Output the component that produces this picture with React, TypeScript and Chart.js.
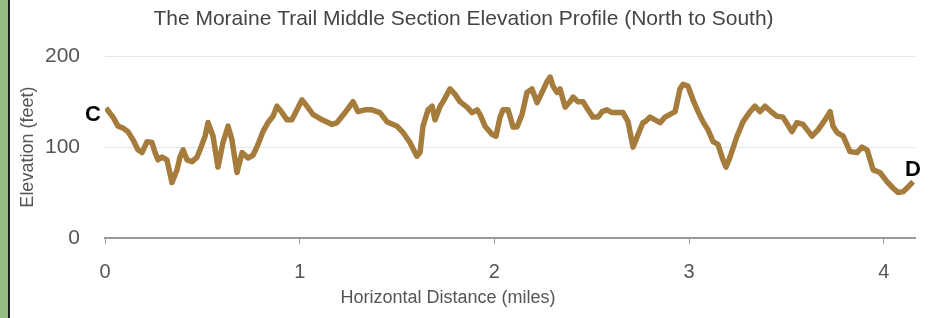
import React, { useEffect, useRef } from "react";
import { Chart, registerables } from "chart.js";

Chart.register(...registerables);

const CHART_TITLE = "The Moraine Trail Middle Section Elevation Profile (North to South)";
const X_TITLE = "Horizontal Distance (miles)";
const Y_TITLE = "Elevation (feet)";
const START_LABEL = "C";
const END_LABEL = "D";

const xTickValues = [0, 1, 2, 3, 4];
const yTickValues = [0, 100, 200];

const distanceMiles = [
  0.005, 0.041, 0.067, 0.092, 0.118, 0.144, 0.169, 0.19, 0.216, 0.241, 0.257, 0.272, 0.293, 0.318,
  0.344, 0.37, 0.385, 0.401, 0.421, 0.447, 0.473, 0.488, 0.514, 0.529, 0.555, 0.58, 0.606, 0.632,
  0.652, 0.678, 0.704, 0.734, 0.76, 0.786, 0.811, 0.837, 0.863, 0.883, 0.909, 0.935, 0.96, 0.986,
  1.012, 1.037, 1.068, 1.115, 1.166, 1.192, 1.233, 1.274, 1.299, 1.335, 1.371, 1.412, 1.448, 1.5,
  1.531, 1.566, 1.602, 1.618, 1.633, 1.659, 1.68, 1.695, 1.721, 1.736, 1.772, 1.798, 1.823, 1.859,
  1.885, 1.911, 1.926, 1.952, 1.988, 2.008, 2.029, 2.044, 2.07, 2.096, 2.116, 2.142, 2.167, 2.193,
  2.219, 2.244, 2.27, 2.286, 2.301, 2.322, 2.337, 2.363, 2.388, 2.404, 2.429, 2.455, 2.481, 2.506,
  2.532, 2.553, 2.578, 2.604, 2.635, 2.66, 2.686, 2.712, 2.738, 2.763, 2.774, 2.799, 2.825, 2.851,
  2.876, 2.902, 2.928, 2.953, 2.969, 2.994, 3.02, 3.046, 3.071, 3.097, 3.123, 3.148, 3.174, 3.189,
  3.21, 3.246, 3.277, 3.313, 3.338, 3.364, 3.39, 3.426, 3.451, 3.482, 3.528, 3.554, 3.585, 3.631,
  3.662, 3.698, 3.724, 3.739, 3.76, 3.791, 3.826, 3.862, 3.888, 3.914, 3.945, 3.98, 4.016, 4.047,
  4.073, 4.099, 4.124, 4.15,
];

const elevationFeet = [
  143, 133, 123, 121, 117, 108, 97, 94, 106, 105, 94, 86, 89, 86,
  61, 75, 89, 97, 86, 84, 89, 97, 112, 127, 112, 78, 105, 123,
  108, 72, 94, 88, 91, 103, 117, 127, 134, 145, 138, 130, 130, 141,
  152, 145, 136, 130, 125, 127, 138, 150, 139, 141, 141, 138, 128, 123,
  116, 105, 90, 94, 123, 141, 145, 130, 145, 150, 164, 158, 150, 144,
  138, 141, 136, 123, 114, 112, 133, 141, 141, 122, 122, 136, 160, 164,
  149, 160, 172, 177, 167, 160, 164, 144, 150, 155, 150, 150, 141, 133,
  133, 139, 141, 138, 138, 138, 128, 100, 114, 127, 128, 133, 130, 127,
  133, 136, 139, 164, 169, 167, 152, 139, 128, 119, 106, 103, 86, 78,
  89, 112, 128, 139, 145, 139, 145, 138, 134, 133, 117, 127, 125, 112,
  119, 130, 139, 123, 116, 112, 95, 94, 100, 97, 75, 72, 62, 55,
  50, 51, 56, 62,
];

const FONT = "'Liberation Sans', Arial, Helvetica, sans-serif";

const annotatePlugin = {
  id: "annotate",
  afterDatasetsDraw(chart: any) {
    const meta = chart.getDatasetMeta(0);
    const pts = meta.data;
    if (!pts || !pts.length) return;
    const first = pts[0];
    const last = pts[pts.length - 1];
    const ctx = chart.ctx;
    ctx.save();
    ctx.font = `bold 22px ${FONT}`;
    ctx.fillStyle = "#000";
    ctx.textAlign = "center";
    ctx.textBaseline = "middle";
    ctx.fillText(START_LABEL, first.x - 13, first.y + 7);
    ctx.fillText(END_LABEL, last.x, last.y - 12);
    const ca = chart.chartArea;
    ctx.font = `18px ${FONT}`;
    ctx.fillStyle = "#555";
    ctx.fillText(X_TITLE, ca.left + ca.width * 0.4235, ca.bottom + 60);
    ctx.restore();
  },
};

export default function App() {
  const canvasRef = useRef<HTMLCanvasElement | null>(null);

  useEffect(() => {
    const canvas = canvasRef.current;
    if (!canvas) return;
    const points = distanceMiles.map((x, i) => ({ x, y: elevationFeet[i] }));
    const chart = new Chart(canvas, {
      type: "line",
      data: {
        datasets: [
          {
            data: points,
            borderColor: "#a57c3b",
            borderWidth: 5.5,
            borderJoinStyle: "round",
            pointRadius: 0,
            tension: 0,
            fill: false,
          },
        ],
      },
      options: {
        animation: false,
        responsive: false,
        maintainAspectRatio: false,
        layout: { padding: { left: 12, right: 15, top: 0, bottom: 0 } },
        plugins: {
          legend: { display: false },
          tooltip: { enabled: false },
          title: {
            display: true,
            text: CHART_TITLE,
            color: "#444",
            font: { family: FONT, size: 21, weight: "normal" },
            padding: { top: 7, bottom: 24 },
          },
        },
        scales: {
          x: {
            type: "linear",
            min: 0,
            max: 4.16,
            afterBuildTicks: (scale: any) => {
              scale.ticks = xTickValues.map((v) => ({ value: v }));
            },
            afterFit: (scale: any) => {
              scale.height = 80;
            },
            border: { display: true, color: "#9a9a9a", width: 2 },
            grid: { drawOnChartArea: false, drawTicks: true, tickLength: 6, color: "#9a9a9a", lineWidth: 1 },
            ticks: {
              color: "#555",
              font: { family: FONT, size: 20 },
              padding: 16,
              maxRotation: 0,
              callback: (v: any) => String(v),
            },
          },
          y: {
            min: 0,
            max: 200,
            afterBuildTicks: (scale: any) => {
              scale.ticks = yTickValues.map((v) => ({ value: v }));
            },
            afterFit: (scale: any) => {
              scale.width = 93;
            },
            border: { display: false },
            grid: { drawTicks: false, color: "#e6e6e6", lineWidth: 1 },
            ticks: {
              color: "#555",
              font: { family: FONT, size: 21 },
              padding: 25,
              callback: (v: any) => String(v),
            },
            title: {
              display: true,
              text: Y_TITLE,
              color: "#555",
              font: { family: FONT, size: 18 },
              padding: { top: 5, bottom: 0 },
            },
          },
        },
      },
      plugins: [annotatePlugin],
    });
    return () => chart.destroy();
  }, []);

  return (
    <div style={{ position: "absolute", left: 0, top: 0, width: 930, height: 318, background: "#fff", overflow: "hidden" }}>
      <div style={{ position: "absolute", left: 0, top: 0, width: 8, height: 318, background: "#95bb82" }} />
      <div style={{ position: "absolute", left: 8, top: 0, width: 2, height: 318, background: "#1e1e1e" }} />
      <canvas ref={canvasRef} width={930} height={318} style={{ position: "absolute", left: 0, top: 0 }} />
    </div>
  );
}
